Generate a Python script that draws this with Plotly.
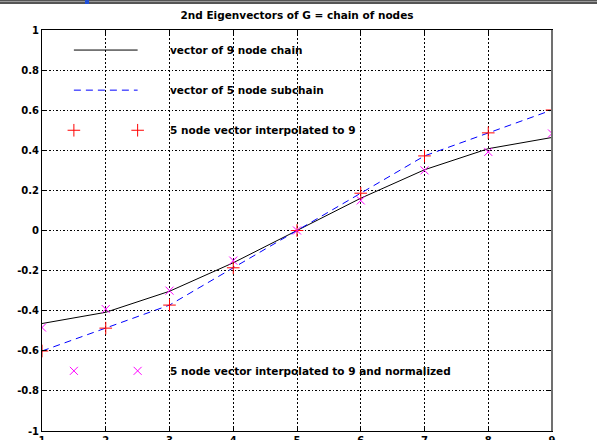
import plotly.graph_objects as go

# ---- data ----
nodes9 = [1, 2, 3, 4, 5, 6, 7, 8, 9]
vec9 = [-0.464, -0.408, -0.303, -0.161, 0.0, 0.161, 0.303, 0.408, 0.464]
nodes5 = [1, 3, 5, 7, 9]
vec5 = [-0.601, -0.372, 0.0, 0.372, 0.601]
interp9 = [-0.601, -0.487, -0.372, -0.186, 0.0, 0.186, 0.372, 0.487, 0.601]
interp9_norm = [-0.484, -0.392, -0.300, -0.150, 0.0, 0.150, 0.300, 0.392, 0.484]

xtick_vals = [1, 2, 3, 4, 5, 6, 7, 8, 9]
xtick_text = ["1", "2", "3", "4", "5", "6", "7", "8", "9"]
ytick_vals = [1, 0.8, 0.6, 0.4, 0.2, 0, -0.2, -0.4, -0.6, -0.8, -1]
ytick_text = ["1", "0.8", "0.6", "0.4", "0.2", "0", "-0.2", "-0.4", "-0.6", "-0.8", "-1"]

labels = ["vector of 9 node chain", "vector of 5 node subchain",
          "5 node vector interpolated to 9",
          "5 node vector interpolated to 9 and normalized"]

title = "2nd Eigenvectors of G = chain of nodes"

# ---- styles ----
FONT = "DejaVu Sans"
W, H = 597, 440
ML, MR, MT, MB = 42, 45, 30, 9
PW, PH = W - ML - MR, H - MT - MB

BLACK = "#000000"
BLUE = "#0000ff"
RED = "#ff0000"
MAG = "#ff00ff"
DASH = "7px,5px"

fig = go.Figure()

fig.add_trace(go.Scatter(x=nodes9, y=vec9, mode="lines",
                         line=dict(color=BLACK, width=1), showlegend=False))
fig.add_trace(go.Scatter(x=nodes5, y=vec5, mode="lines",
                         line=dict(color=BLUE, width=1, dash=DASH), showlegend=False))
fig.add_trace(go.Scatter(x=nodes9, y=interp9, mode="markers",
                         marker=dict(symbol="cross-thin", size=9,
                                     line=dict(color=RED, width=1)), showlegend=False))
fig.add_trace(go.Scatter(x=nodes9, y=interp9_norm, mode="markers",
                         marker=dict(symbol="x-thin", size=8,
                                     line=dict(color=MAG, width=1)), showlegend=False))

# ---- in-axes legend (MATLAB style, drawn in data coordinates) ----
lx0, lx1, ltext = 1.5, 2.5, 3.0
ly = [0.9, 0.7, 0.5, -0.7]
fig.add_trace(go.Scatter(x=[lx0, lx1], y=[ly[0], ly[0]], mode="lines",
                         line=dict(color=BLACK, width=1), showlegend=False))
fig.add_trace(go.Scatter(x=[lx0, lx1], y=[ly[1], ly[1]], mode="lines",
                         line=dict(color=BLUE, width=1, dash=DASH), showlegend=False))
fig.add_trace(go.Scatter(x=[lx0, lx1], y=[ly[2], ly[2]], mode="markers",
                         marker=dict(symbol="cross-thin", size=9,
                                     line=dict(color=RED, width=1)), showlegend=False))
fig.add_trace(go.Scatter(x=[lx0, lx1], y=[ly[3], ly[3]], mode="markers",
                         marker=dict(symbol="x-thin", size=8,
                                     line=dict(color=MAG, width=1)), showlegend=False))
for yy, txt in zip(ly, labels):
    fig.add_annotation(x=ltext, y=yy, xref="x", yref="y", text=txt, showarrow=False,
                       xanchor="left", yanchor="middle", xshift=-2,
                       font=dict(family=FONT, size=10.5, color=BLACK, weight="bold"))

# ---- window frame strip at top (drawn as empty annotation boxes) ----
def px_x(p):
    return (p - ML) / PW

def px_y(q):
    return (H - MB - q) / PH

def strip(x0, x1, y0, y1, color):
    fig.add_annotation(xref="paper", yref="paper", x=px_x(x0), y=px_y(y0),
                       xanchor="left", yanchor="top", text=" ", showarrow=False,
                       width=x1 - x0, height=y1 - y0, bgcolor=color,
                       borderpad=0, borderwidth=0, font=dict(size=1), opacity=1)

strip(0, W, 0, 4, "#555555")
strip(0, W, 1.5, 2.5, "#9a9a9a")
strip(85, 89, 0, 4, "#1f4fd8")

# right border (grey, as in the reference)
fig.add_shape(type="line", xref="paper", yref="paper", x0=1, x1=1, y0=0, y1=1,
              line=dict(color="#707070", width=2), layer="above")

axis_common = dict(showline=True, linecolor=BLACK, linewidth=1, mirror="ticks",
                   ticks="inside", ticklen=4, tickcolor=BLACK, tickwidth=1,
                   showgrid=True, gridcolor=BLACK, gridwidth=1, zeroline=False,
                   automargin=False,
                   tickfont=dict(family=FONT, size=10, color=BLACK, weight="bold"))

fig.update_xaxes(range=[1, 9], tickvals=xtick_vals, ticktext=xtick_text,
                 griddash="1.5px,2.5px", **axis_common)
fig.update_yaxes(range=[-1, 1], tickvals=ytick_vals, ticktext=ytick_text,
                 griddash="2px,2px,1px,2px", **axis_common)

fig.update_layout(
    width=W, height=H,
    margin=dict(l=ML, r=MR, t=MT, b=MB, pad=0, autoexpand=False),
    paper_bgcolor="white", plot_bgcolor="white",
    title=dict(text=title, x=(ML + PW / 2) / W, xanchor="center",
               y=1 - 15 / H, yanchor="middle", yref="container",
               font=dict(family=FONT, size=10.5, color=BLACK, weight="bold")),
    showlegend=False,
)

fig.write_html("out.html")
